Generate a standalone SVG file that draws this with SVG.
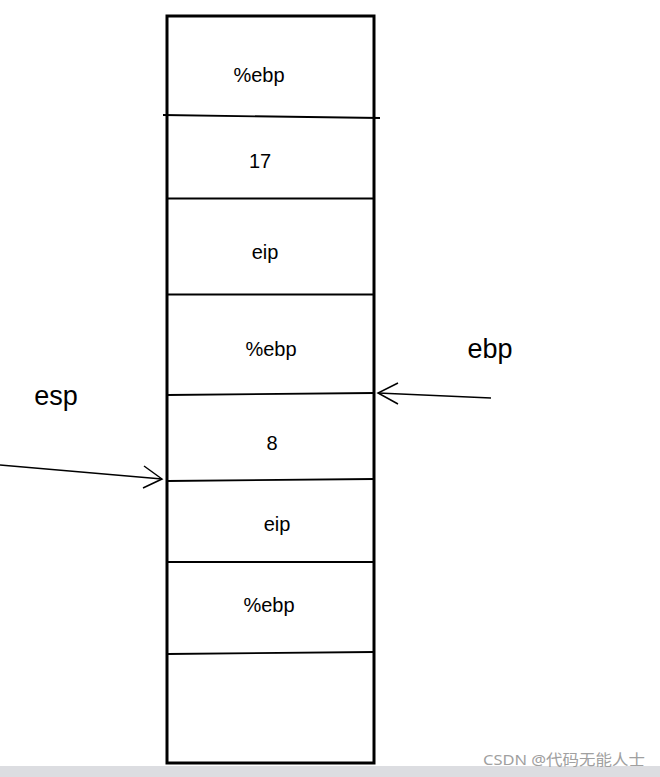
<svg xmlns="http://www.w3.org/2000/svg" width="660" height="777" viewBox="0 0 660 777">
<style>
.cell{font-family:"Liberation Sans",Arial,sans-serif;font-size:20px;fill:#000;text-anchor:middle}
.lbl{font-family:"Liberation Sans",Arial,sans-serif;font-size:27px;fill:#000;text-anchor:middle}
.div{stroke:#000;stroke-width:1.8;fill:none}
.arr{stroke:#000;stroke-width:1.5;fill:none}
.mark{font-family:"Noto Sans","Noto Sans CJK SC",sans-serif;font-size:15px;fill:#a0a0a0}
</style>
<rect width="660" height="777" fill="#fff"/>
<g id="stack">
<rect x="167" y="16" width="207" height="747" fill="none" stroke="#000" stroke-width="3"/>
<line class="div" x1="163" y1="115" x2="380" y2="118"/>
<line class="div" x1="167" y1="198.5" x2="374" y2="198.5"/>
<line class="div" x1="167" y1="294.5" x2="374" y2="294.5"/>
<line class="div" x1="167" y1="395" x2="374" y2="393"/>
<line class="div" x1="167" y1="481" x2="374" y2="479"/>
<line class="div" x1="167" y1="562" x2="374" y2="562"/>
<line class="div" x1="167" y1="654" x2="374" y2="652"/>
</g>
<g id="cell-ebp1"><text class="cell" x="259" y="82">%ebp</text></g>
<g id="cell-17"><text class="cell" x="260" y="168">17</text></g>
<g id="cell-eip1"><text class="cell" x="265" y="259">eip</text></g>
<g id="cell-ebp2"><text class="cell" x="271" y="356">%ebp</text></g>
<g id="cell-8"><text class="cell" x="272" y="450">8</text></g>
<g id="cell-eip2"><text class="cell" x="277" y="531">eip</text></g>
<g id="cell-ebp3"><text class="cell" x="269" y="612">%ebp</text></g>
<g id="label-ebp"><text class="lbl" x="490" y="358">ebp</text></g>
<g id="label-esp"><text class="lbl" x="56" y="405">esp</text></g>
<g id="connectors">
<polyline class="arr" points="491,398 378,393"/>
<polyline class="arr" points="398,383 378,393 398,404"/>
<polyline class="arr" points="0,465 162,479"/>
<polyline class="arr" points="144,466 162,479 143,488"/>
</g>
<rect x="0" y="766" width="660" height="11" fill="#dcdde1"/>
<text class="mark" x="483" y="765" textLength="162" lengthAdjust="spacingAndGlyphs">CSDN @代码无能人士</text>
</svg>
